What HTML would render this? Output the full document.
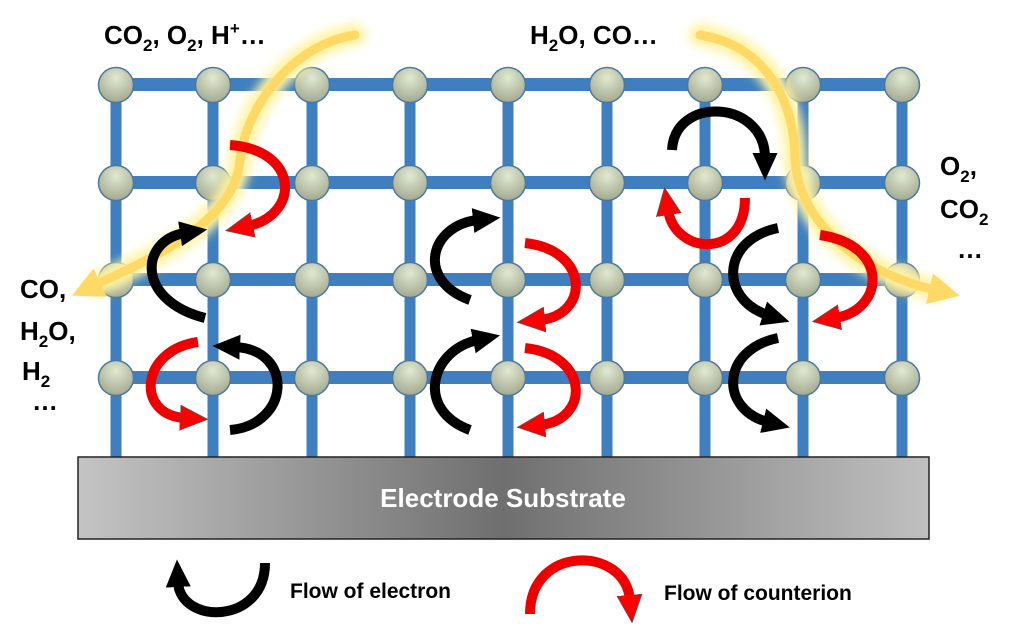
<!DOCTYPE html>
<html><head><meta charset="utf-8"><style>
html,body{margin:0;padding:0;background:#fff;width:1023px;height:628px;overflow:hidden}
svg{display:block}
text{font-family:"Liberation Sans",sans-serif;font-weight:bold}
</style></head><body>
<svg width="1023" height="628" viewBox="0 0 1023 628">
<defs>
<radialGradient id="node" cx="0.5" cy="0.3" r="0.7">
<stop offset="0" stop-color="#e0e9d2"/><stop offset="1" stop-color="#a3a98e"/></radialGradient>
<linearGradient id="sub" x1="0" x2="1" y1="0" y2="0">
<stop offset="0" stop-color="#c4c4c4"/><stop offset="0.5" stop-color="#6f6f6f"/><stop offset="1" stop-color="#c0c0c0"/></linearGradient>
<marker id="hb" markerUnits="userSpaceOnUse" markerWidth="30" markerHeight="30" refX="4" refY="12" orient="auto" viewBox="0 0 24 24">
<path d="M0,2 L22,12 L0,22 Z" fill="#000"/></marker>
<marker id="hr" markerUnits="userSpaceOnUse" markerWidth="30" markerHeight="30" refX="4" refY="12" orient="auto" viewBox="0 0 24 24">
<path d="M0,2 L22,12 L0,22 Z" fill="#f00" stroke="#6b4a4a" stroke-width="0.7"/></marker>
<marker id="hy" markerUnits="userSpaceOnUse" markerWidth="34" markerHeight="34" refX="4" refY="12" orient="auto" viewBox="0 0 24 24">
<path d="M0,1 L22,12 L0,23 Z" fill="#ffd966"/></marker>
<filter id="glow" x="-20%" y="-20%" width="140%" height="140%"><feGaussianBlur stdDeviation="5"/></filter>
</defs>

<g stroke="#3f7fbf" stroke-width="11">
<line x1="116" y1="85" x2="116" y2="458"/><line x1="213" y1="85" x2="213" y2="458"/>
<line x1="312" y1="85" x2="312" y2="458"/><line x1="410" y1="85" x2="410" y2="458"/>
<line x1="508" y1="85" x2="508" y2="458"/><line x1="607" y1="85" x2="607" y2="458"/>
<line x1="705" y1="85" x2="705" y2="458"/><line x1="803" y1="85" x2="803" y2="458"/>
<line x1="902" y1="85" x2="902" y2="458"/>
</g>
<g fill="#3f7fbf">
<rect x="116" y="78" width="786" height="13"/><rect x="116" y="176" width="786" height="13"/>
<rect x="116" y="273" width="786" height="13"/><rect x="116" y="371" width="786" height="13"/>
</g>
<g fill="url(#node)" stroke="#4a78a0" stroke-width="1.5">
<g id="r1">
<circle cx="116" cy="85" r="17.5"/><circle cx="213" cy="85" r="17.5"/><circle cx="312" cy="85" r="17.5"/>
<circle cx="410" cy="85" r="17.5"/><circle cx="508" cy="85" r="17.5"/><circle cx="607" cy="85" r="17.5"/>
<circle cx="705" cy="85" r="17.5"/><circle cx="803" cy="85" r="17.5"/><circle cx="902" cy="85" r="17.5"/>
</g>
<use href="#r1" y="98"/><use href="#r1" y="195"/><use href="#r1" y="293"/>
</g>

<rect x="78" y="457" width="851" height="82" fill="url(#sub)" stroke="#222" stroke-width="1.5"/>
<text x="503" y="507" font-size="26" fill="#fff" text-anchor="middle">Electrode Substrate</text>

<g fill="none" stroke-linecap="round">
<path d="M355,35 C290,45 245,110 240,160 C235,220 160,255 95,285" stroke="#fff3a0" stroke-width="22" filter="url(#glow)"/>
<path d="M355,35 C290,45 245,110 240,160 C235,220 160,255 95,285" stroke="#ffd966" stroke-width="9" marker-end="url(#hy)"/>
<path d="M700,35 C765,45 795,100 795,160 C800,230 870,275 935,290" stroke="#fff3a0" stroke-width="22" filter="url(#glow)"/>
<path d="M700,35 C765,45 795,100 795,160 C800,230 870,275 935,290" stroke="#ffd966" stroke-width="9" marker-end="url(#hy)"/>
</g>

<g fill="none" stroke-width="10">
<g stroke="#e00" marker-end="url(#hr)">
<path d="M230,145 C300,150 300,215 248,226"/>
<path d="M198,342 C140,350 135,415 185,418"/>
<path d="M525,243 C590,250 590,315 540,320"/>
<path d="M525,348 C590,355 590,420 540,425"/>
<path d="M745,198 C745,260 675,255 668,210"/>
<path d="M820,235 C890,245 885,310 835,318"/>
<path d="M530,614 C530,545 625,545 630,600"/>
</g>
<g stroke="#000" marker-end="url(#hb)">
<path d="M205,318 C135,300 140,240 185,233"/>
<path d="M230,430 C290,425 295,350 235,347"/>
<path d="M470,300 C415,280 430,225 478,220"/>
<path d="M470,430 C415,410 430,350 478,340"/>
<path d="M672,150 C675,95 765,100 765,158"/>
<path d="M778,228 C720,240 720,300 768,315"/>
<path d="M778,338 C720,350 720,410 768,422"/>
<path d="M265,563 C265,625 180,625 178,582"/>
</g>
</g>

<g font-size="26" fill="#000">
<text x="104" y="44">CO<tspan font-size="17" dy="7">2</tspan><tspan dy="-7">, O</tspan><tspan font-size="17" dy="7">2</tspan><tspan dy="-7">, H</tspan><tspan font-size="17" dy="-10">+</tspan><tspan dy="10">…</tspan></text>
<text x="530" y="44">H<tspan font-size="17" dy="7">2</tspan><tspan dy="-7">O, CO…</tspan></text>
<text x="940" y="175">O<tspan font-size="17" dy="7">2</tspan><tspan dy="-7">,</tspan></text>
<text x="940" y="218">CO<tspan font-size="17" dy="7">2</tspan></text>
<text x="957" y="258">…</text>
<text x="20" y="298">CO,</text>
<text x="20" y="340">H<tspan font-size="17" dy="7">2</tspan><tspan dy="-7">O,</tspan></text>
<text x="22" y="380">H<tspan font-size="17" dy="7">2</tspan></text>
<text x="32" y="410">…</text>
</g>
<text x="290" y="598" font-size="21">Flow of electron</text>
<text x="664" y="600" font-size="21">Flow of counterion</text>
</svg>
</body></html>
